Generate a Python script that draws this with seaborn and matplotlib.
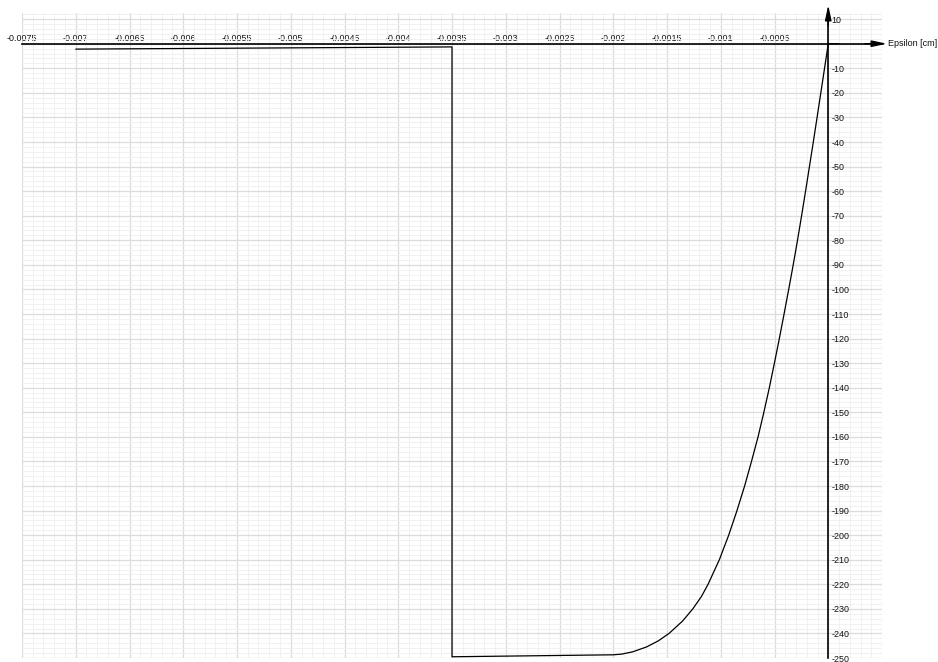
import matplotlib
matplotlib.use('Agg')
import matplotlib.pyplot as plt
import seaborn as sns
from matplotlib.ticker import FixedLocator, FixedFormatter, MultipleLocator
from matplotlib.transforms import blended_transform_factory

# ---- data ----
eps = [-0.007, -0.0035, -0.0035, -0.0020, -0.00192, -0.00182, -0.00169, -0.00158,
       -0.001481, -0.001356, -0.00126, -0.00118, -0.001118, -0.001013, -0.000926,
       -0.000849, -0.000778, -0.000714, -0.000653, -0.000599, -0.000548, -0.000501,
       -0.000455, -0.000411, -0.000368, -0.000326, -0.000286, -0.000248, -0.000211,
       -0.000175, -0.000139, -0.000104, -0.000069, -0.0000345, 0.0, 0.0001]
sigma = [-2.2, -1.3, -249.5, -248.7, -248.4, -247.5, -245.5, -243.0,
         -240, -235, -230, -225, -220, -210, -200,
         -190, -180, -170, -160, -150, -140, -130,
         -120, -110, -100, -90, -80, -70, -60,
         -50, -40, -30, -20, -10, 0, 0]

x_ticks = [-0.0075, -0.007, -0.0065, -0.006, -0.0055, -0.005, -0.0045, -0.004,
           -0.0035, -0.003, -0.0025, -0.002, -0.0015, -0.001, -0.0005, 0.0, 0.0005]
x_tick_labels = ['-0.0075', '-0.007', '-0.0065', '-0.006', '-0.0055', '-0.005',
                 '-0.0045', '-0.004', '-0.0035', '-0.003', '-0.0025', '-0.002',
                 '-0.0015', '-0.001', '-0.0005', '', '']
y_ticks = [10, 0, -10, -20, -30, -40, -50, -60, -70, -80, -90, -100, -110, -120,
           -130, -140, -150, -160, -170, -180, -190, -200, -210, -220, -230, -240, -250]
y_tick_labels = ['10', '', '-10', '-20', '-30', '-40', '-50', '-60', '-70', '-80',
                 '-90', '-100', '-110', '-120', '-130', '-140', '-150', '-160',
                 '-170', '-180', '-190', '-200', '-210', '-220', '-230', '-240', '-250']
x_axis_title = 'Epsilon [cm]'

sns.set_theme(style='white')
plt.rcParams['font.family'] = ['Liberation Sans', 'DejaVu Sans']

fig = plt.figure(figsize=(9.38, 6.62), dpi=100)
ax = fig.add_axes([22 / 938, 4 / 662, 860 / 938, 645 / 662])

sns.lineplot(x=eps, y=sigma, sort=False, estimator=None, color='black',
             linewidth=0.9, ax=ax, zorder=3)

ax.set_xlim(-0.0075, 0.0005)
ax.set_ylim(-250, 12.5)
ax.set_xlabel('')
ax.set_ylabel('')

for s in ['bottom', 'left']:
    ax.spines[s].set_visible(False)
ax.spines['top'].set_position(('data', 0))
ax.spines['right'].set_position(('data', 0))
for s in ['top', 'right']:
    ax.spines[s].set_color('black')
    ax.spines[s].set_linewidth(1.2)
    ax.spines[s].set_zorder(4)
ax.xaxis.set_ticks_position('top')
ax.yaxis.set_ticks_position('right')

ax.xaxis.set_major_locator(FixedLocator(x_ticks))
ax.xaxis.set_major_formatter(FixedFormatter(x_tick_labels))
ax.yaxis.set_major_locator(FixedLocator(y_ticks))
ax.yaxis.set_major_formatter(FixedFormatter(y_tick_labels))
ax.xaxis.set_minor_locator(MultipleLocator(0.0001))
ax.yaxis.set_minor_locator(MultipleLocator(2))

ax.tick_params(which='both', length=0)
ax.tick_params(axis='x', pad=0.6, labelsize=6.4, labelcolor='#111111')
ax.tick_params(axis='y', pad=2.3, labelsize=6.4, labelcolor='#111111')

ax.grid(which='major', color='#dcdcdc', linewidth=0.9)
ax.grid(which='minor', color='#efefef', linewidth=0.6)
ax.set_axisbelow(True)

tx = blended_transform_factory(ax.transAxes, ax.transData)
ty = blended_transform_factory(ax.transData, ax.transAxes)
arrow = dict(arrowstyle='-|>,head_length=0.75,head_width=0.16', color='black',
             lw=1.0, shrinkA=0, shrinkB=0)
ax.annotate('', xy=(1.0058, 0), xycoords=tx, xytext=(0.98, 0), textcoords=tx,
            arrowprops=arrow, annotation_clip=False)
ax.annotate('', xy=(0, 1.0124), xycoords=ty, xytext=(0, 0.98), textcoords=ty,
            arrowprops=arrow, annotation_clip=False)
ax.text(1.007, 0, x_axis_title, transform=tx, ha='left', va='center',
        fontsize=6.5, color='#111111')

fig.savefig('out.png', dpi=100)
